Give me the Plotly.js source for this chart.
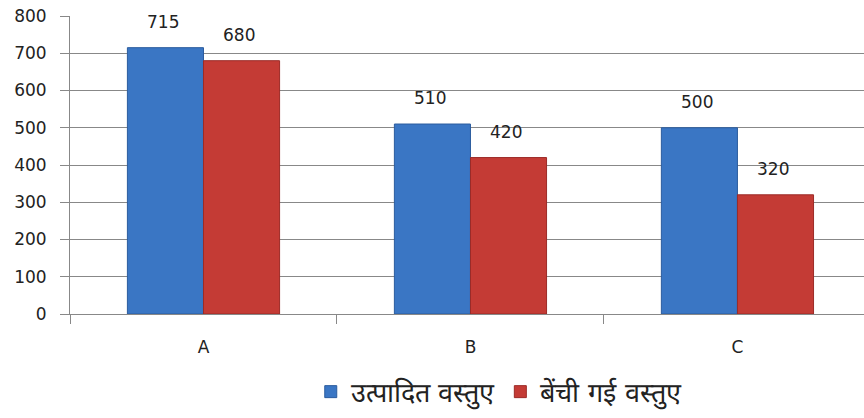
<!DOCTYPE html>
<html>
<head>
<meta charset="utf-8">
<script src="https://cdn.plot.ly/plotly-3.0.1.min.js"></script>
<style>html,body{margin:0;padding:0;background:#fff;}#chart{width:864px;height:418px;}</style>
</head>
<body>
<div id="chart"></div>
<script>
const categories = ["A", "B", "C"];
const producedName = "उत्पादित वस्तुए";
const soldName = "बेंची गई वस्तुए";
const produced = [715, 510, 500];
const sold = [680, 420, 320];
const yTicks = [0, 100, 200, 300, 400, 500, 600, 700, 800];

const font = "Tahoma, 'DejaVu Sans', Verdana, sans-serif";

const traces = [
  {type: "bar", name: producedName, x: categories, y: produced,
   marker: {color: "#3a76c4", line: {color: "#2b5c9e", width: 1}}, hoverinfo: "none"},
  {type: "bar", name: soldName, x: categories, y: sold,
   marker: {color: "#c43b35", line: {color: "#9c2b27", width: 1}}, hoverinfo: "none"}
];

const annotations = [];
categories.forEach((c, i) => {
  annotations.push({x: c, y: produced[i], xref: "x", yref: "y", text: String(produced[i]),
    showarrow: false, xshift: -40, yshift: 26, font: {family: font, size: 17, color: "#222"}});
  annotations.push({x: c, y: sold[i], xref: "x", yref: "y", text: String(sold[i]),
    showarrow: false, xshift: 36, yshift: 26, font: {family: font, size: 17, color: "#222"}});
});

const layout = {
  width: 864, height: 418,
  margin: {l: 70, r: 0, t: 16, b: 104},
  paper_bgcolor: "#fff", plot_bgcolor: "#fff",
  barmode: "group", bargap: 0.43, bargroupgap: 0,
  font: {family: font, size: 17, color: "#222"},
  showlegend: true,
  legend: {orientation: "h", x: 0.54, xanchor: "center", y: -0.262, yanchor: "middle",
    font: {family: font, size: 27, color: "#222"}, itemwidth: 30, traceorder: "normal"},
  xaxis: {type: "category", range: [-0.5, 2.474], showline: true, linecolor: "#888", linewidth: 1,
    ticks: "outside", tickson: "boundaries", ticklen: 9, tickcolor: "#888",
    showgrid: false, zeroline: false, ticklabelstandoff: 18, tickfont: {family: font, size: 17}},
  yaxis: {range: [0, 800], tickvals: yTicks, showline: true, linecolor: "#888", linewidth: 1,
    ticks: "outside", ticklen: 9, tickcolor: "#888", gridcolor: "#888", gridwidth: 1,
    zeroline: false, ticklabelstandoff: 10, tickfont: {family: font, size: 17}},
  annotations: annotations
};

Plotly.newPlot("chart", traces, layout, {displayModeBar: false, staticPlot: true});
</script>
</body>
</html>
